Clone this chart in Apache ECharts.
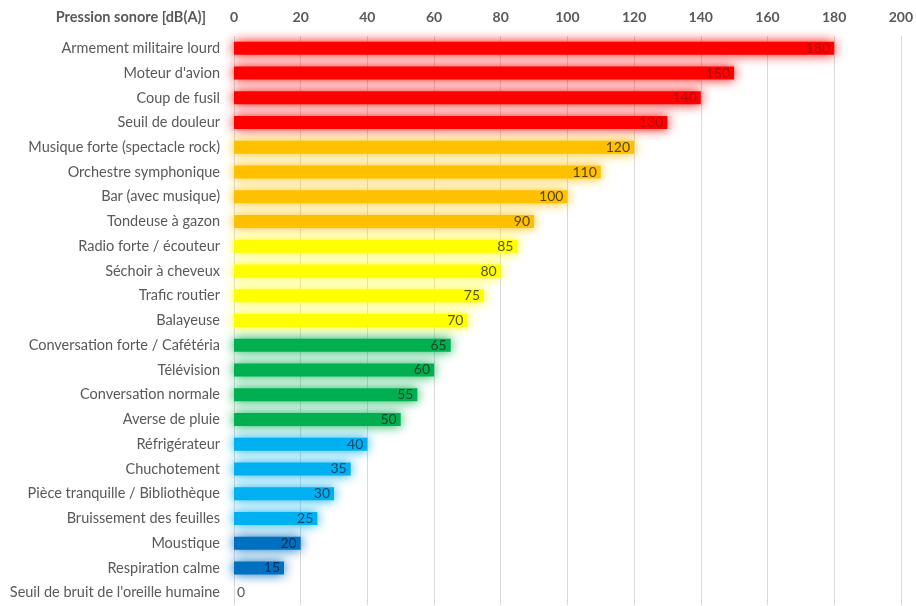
<!DOCTYPE html>
<html>
<head>
<meta charset="utf-8">
<script src="https://cdn.jsdelivr.net/npm/echarts@6/dist/echarts.min.js"></script>
<style>
  html, body { margin: 0; padding: 0; background: #fff; }
  #chart { width: 916px; height: 606px; }
</style>
</head>
<body>
<div id="chart"></div>
<script>
// Sources de bruit et niveaux de pression sonore, du plus fort au plus faible
const categories = [
  "Armement militaire lourd",
  "Moteur d'avion",
  "Coup de fusil",
  "Seuil de douleur",
  "Musique forte (spectacle rock)",
  "Orchestre symphonique",
  "Bar (avec musique)",
  "Tondeuse à gazon",
  "Radio forte / écouteur",
  "Séchoir à cheveux",
  "Trafic routier",
  "Balayeuse",
  "Conversation forte / Cafétéria",
  "Télévision",
  "Conversation normale",
  "Averse de pluie",
  "Réfrigérateur",
  "Chuchotement",
  "Pièce tranquille / Bibliothèque",
  "Bruissement des feuilles",
  "Moustique",
  "Respiration calme",
  "Seuil de bruit de l'oreille humaine"
];

const decibels = [180, 150, 140, 130, 120, 110, 100, 90, 85, 80, 75, 70, 65, 60, 55, 50, 40, 35, 30, 25, 20, 15, 0];

// Niveau de risque de chaque source
const levels = [
  "danger", "danger", "danger", "danger",
  "fort", "fort", "fort", "fort",
  "eleve", "eleve", "eleve", "eleve",
  "modere", "modere", "modere", "modere",
  "faible", "faible", "faible", "faible",
  "calme", "calme", "calme"
];

const axisTicks = [0, 20, 40, 60, 80, 100, 120, 140, 160, 180, 200];

// Couleurs des niveaux (barre, étiquette)
const palette = {
  danger: { bar: "#FF0000", label: "rgba(150,10,10,0.7)" },
  fort:   { bar: "#FFC000", label: "rgba(40,35,30,0.8)" },
  eleve:  { bar: "#FFFF00", label: "rgba(40,40,30,0.8)" },
  modere: { bar: "#00B050", label: "rgba(20,40,30,0.8)" },
  faible: { bar: "#00B0F0", label: "rgba(20,40,70,0.8)" },
  calme:  { bar: "#0070C0", label: "rgba(10,30,60,0.8)" }
};

const FONT = "Lato, 'Open Sans', sans-serif";
const TXT = "#595959";

const seriesData = decibels.map((v, i) => {
  const p = palette[levels[i]];
  const item = {
    value: v,
    itemStyle: { color: p.bar, shadowColor: p.bar, shadowBlur: 12 },
    label: { color: p.label }
  };
  if (v === 0) {
    item.label = { position: "right", distance: 3, color: TXT };
  }
  return item;
});

const chart = echarts.init(document.getElementById("chart"), null, { renderer: "canvas" });

chart.setOption({
  animation: false,
  backgroundColor: "#ffffff",
  grid: { left: 234, right: 15, top: 36, bottom: 1, containLabel: false },
  graphic: [{
    type: "text",
    x: 206,
    y: 17,
    style: {
      text: "Pression sonore [dB(A)]",
      fill: TXT,
      font: "bold 14.5px " + FONT,
      textAlign: "right",
      textVerticalAlign: "middle"
    }
  }],
  xAxis: {
    type: "value",
    position: "top",
    min: axisTicks[0],
    max: axisTicks[axisTicks.length - 1],
    interval: axisTicks[1] - axisTicks[0],
    axisLine: { show: false },
    axisTick: { show: false },
    axisLabel: {
      color: TXT,
      fontFamily: FONT,
      fontWeight: "bold",
      fontSize: 14,
      margin: 12,
      hideOverlap: false
    },
    splitLine: { show: true, lineStyle: { color: "#d9d9d9", width: 1 } }
  },
  yAxis: {
    type: "category",
    inverse: true,
    data: categories,
    axisLine: { show: false },
    axisTick: { show: false },
    axisLabel: {
      color: TXT,
      fontFamily: FONT,
      fontSize: 14.5,
      margin: 14
    }
  },
  series: [{
    type: "bar",
    data: seriesData,
    barWidth: 13,
    label: {
      show: true,
      position: "insideRight",
      distance: 4,
      fontFamily: FONT,
      fontSize: 14
    }
  }]
});
</script>
</body>
</html>
